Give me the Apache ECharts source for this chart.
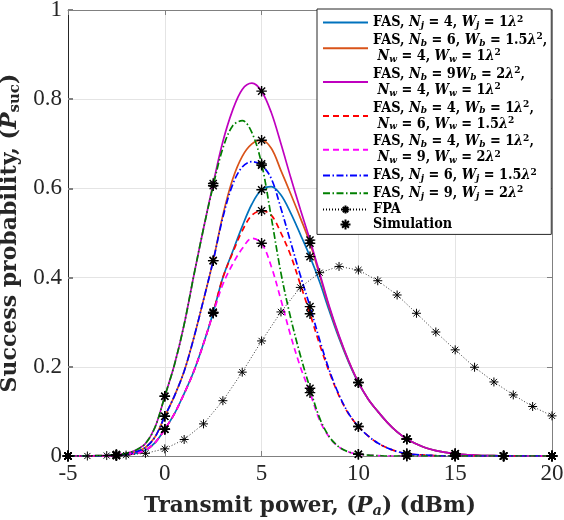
<!DOCTYPE html>
<html><head><meta charset="utf-8">
<script src="https://cdn.jsdelivr.net/npm/echarts/dist/echarts.min.js"></script>
<style>html,body{margin:0;padding:0;background:#fff}#c{width:564px;height:520px}</style>
</head><body><div id="c"></div>
<script>
// Transmit power grid (dBm) for FAS curves
const xFine = [-5,-4.5,-4,-3.5,-3,-2.5,-2,-1.5,-1,-0.5,0,0.5,1,1.5,2,2.5,3,3.5,4,4.5,5,5.5,6,6.5,7,7.5,8,8.5,9,9.5,10,10.5,11,11.5,12,12.5,13,13.5,14,14.5,15,15.5,16,16.5,17,17.5,18,18.5,19,19.5,20];
// FAS, Nj=4, Wj=1λ²
const fasNj4 = [0,0,0,0,0,0.001,0.003,0.006,0.013,0.03,0.06,0.095,0.14,0.19,0.252,0.322,0.40,0.458,0.515,0.565,0.597,0.604,0.585,0.545,0.497,0.447,0.39,0.325,0.264,0.21,0.164,0.128,0.10,0.075,0.054,0.038,0.027,0.018,0.012,0.008,0.005,0.003,0.002,0.001,0.001,0,0,0,0,0,0];
// FAS, Nb=6, Wb=1.5λ², Nw=4, Ww=1λ²
const fasNb6Nw4 = [0,0,0,0,0.001,0.002,0.004,0.009,0.019,0.043,0.089,0.135,0.19,0.265,0.35,0.438,0.54,0.62,0.672,0.70,0.708,0.69,0.64,0.588,0.534,0.477,0.405,0.332,0.268,0.212,0.165,0.128,0.10,0.075,0.054,0.038,0.027,0.018,0.012,0.008,0.005,0.003,0.002,0.001,0.001,0,0,0,0,0,0];
// FAS, Nb=9, Wb=2λ², Nw=4, Ww=1λ²
const fasNb9Nw4 = [0,0,0,0.001,0.001,0.003,0.006,0.013,0.028,0.065,0.134,0.205,0.295,0.405,0.51,0.611,0.705,0.775,0.822,0.836,0.818,0.77,0.70,0.625,0.553,0.484,0.41,0.335,0.27,0.213,0.165,0.128,0.10,0.075,0.054,0.038,0.027,0.018,0.012,0.008,0.005,0.003,0.002,0.001,0.001,0,0,0,0,0,0];
// FAS, Nb=4, Wb=1λ², Nw=6, Ww=1.5λ²
const fasNb4Nw6 = [0,0,0,0,0,0.001,0.003,0.006,0.013,0.03,0.06,0.095,0.14,0.19,0.252,0.322,0.40,0.455,0.505,0.54,0.55,0.54,0.50,0.45,0.385,0.319,0.25,0.188,0.135,0.094,0.066,0.045,0.029,0.018,0.01,0.005,0.003,0.002,0.001,0,0,0,0,0,0,0,0,0,0,0,0];
// FAS, Nb=4, Wb=1λ², Nw=9, Ww=2λ²
const fasNb4Nw9 = [0,0,0,0,0,0.001,0.003,0.006,0.013,0.03,0.06,0.095,0.14,0.19,0.252,0.32,0.385,0.43,0.465,0.488,0.477,0.425,0.35,0.27,0.2,0.142,0.08,0.042,0.02,0.009,0.004,0.002,0.001,0,0,0,0,0,0,0,0,0,0,0,0,0,0,0,0,0,0];
// FAS, Nj=6, Wj=1.5λ²
const fasNj6 = [0,0,0,0,0.001,0.002,0.004,0.009,0.019,0.043,0.089,0.135,0.19,0.265,0.35,0.438,0.535,0.608,0.648,0.66,0.652,0.622,0.555,0.48,0.405,0.335,0.26,0.192,0.137,0.095,0.066,0.045,0.029,0.018,0.01,0.005,0.003,0.002,0.001,0,0,0,0,0,0,0,0,0,0,0,0];
// FAS, Nj=9, Wj=2λ²
const fasNj9 = [0,0,0,0.001,0.001,0.003,0.006,0.013,0.028,0.065,0.134,0.205,0.295,0.405,0.51,0.606,0.69,0.74,0.752,0.725,0.655,0.535,0.41,0.31,0.226,0.152,0.085,0.043,0.02,0.009,0.004,0.002,0.001,0,0,0,0,0,0,0,0,0,0,0,0,0,0,0,0,0,0];
// FPA
const xFpa = [-5,-4,-3,-2,-1,0,1,2,3,4,5,6,7,8,9,10,11,12,13,14,15,16,17,18,19,20];
const fpa = [0,0,0.001,0.002,0.006,0.016,0.037,0.072,0.124,0.188,0.258,0.323,0.378,0.411,0.425,0.417,0.393,0.361,0.320,0.278,0.238,0.199,0.166,0.137,0.111,0.090];
// simulation markers every 2.5 dBm
const xSim = [-5,-2.5,0,2.5,5,7.5,10,12.5,15,17.5,20];
const xTicks = [-5,0,5,10,15,20];
const yTicks = [0,0.2,0.4,0.6,0.8,1];

const names = [
  'FAS, Nj = 4, Wj = 1λ2',
  'FAS, Nb = 6, Wb = 1.5λ2, Nw = 4, Ww = 1λ2',
  'FAS, Nb = 9Wb = 2λ2, Nw = 4, Ww = 1λ2',
  'FAS, Nb = 4, Wb = 1λ2, Nw = 6, Ww = 1.5λ2',
  'FAS, Nb = 4, Wb = 1λ2, Nw = 9, Ww = 2λ2',
  'FAS, Nj = 6, Wj = 1.5λ2',
  'FAS, Nj = 9, Wj = 2λ2',
  'FPA',
  'Simulation'
];
const labelRich = [
  '{b|FAS, }{i|N}{s|j}{b| = 4, }{i|W}{s|j}{b| = 1}{i|λ}{p|2}',
  '{b|FAS, }{i|N}{s|b}{b| = 6, }{i|W}{s|b}{b| = 1.5}{i|λ}{p|2}{b|,}\n{b| }{i|N}{s|w}{b| = 4, }{i|W}{s|w}{b| = 1}{i|λ}{p|2}',
  '{b|FAS, }{i|N}{s|b}{b| = 9}{i|W}{s|b}{b| = 2}{i|λ}{p|2}{b|,}\n{b| }{i|N}{s|w}{b| = 4, }{i|W}{s|w}{b| = 1}{i|λ}{p|2}',
  '{b|FAS, }{i|N}{s|b}{b| = 4, }{i|W}{s|b}{b| = 1}{i|λ}{p|2}{b|,}\n{b| }{i|N}{s|w}{b| = 6, }{i|W}{s|w}{b| = 1.5}{i|λ}{p|2}',
  '{b|FAS, }{i|N}{s|b}{b| = 4, }{i|W}{s|b}{b| = 1}{i|λ}{p|2}{b|,}\n{b| }{i|N}{s|w}{b| = 9, }{i|W}{s|w}{b| = 2}{i|λ}{p|2}',
  '{b|FAS, }{i|N}{s|j}{b| = 6, }{i|W}{s|j}{b| = 1.5}{i|λ}{p|2}',
  '{b|FAS, }{i|N}{s|j}{b| = 9, }{i|W}{s|j}{b| = 2}{i|λ}{p|2}',
  '{b|FPA}',
  '{b|Simulation}'
];

const SERIF = "'Liberation Serif', 'DejaVu Serif', serif";
const CSERIF = "'DejaVu Serif Condensed', 'DejaVu Serif', serif";
const DSERIF = "'DejaVu Serif', serif";
const star = 'path://M5 0L5 10M0 5L10 5M1.6 1.6L8.4 8.4M8.4 1.6L1.6 8.4';

function fas(idx, data, color, type, width, z) {
  return {
    name: names[idx], type: 'line', data: xFine.map((x, i) => [x, data[i]]),
    smooth: 0.35, symbol: 'none', showSymbol: false, z: z,
    lineStyle: { color: color, width: width, type: type }, itemStyle: { color: color }
  };
}
const curves = [fasNj4, fasNb6Nw4, fasNb9Nw4, fasNb4Nw6, fasNb4Nw9, fasNj6, fasNj9];
const simData = [];
curves.forEach(arr => {
  xSim.forEach(xs => { const i = xFine.indexOf(xs); simData.push([xs, arr[i]]); });
});

const rich = {
  b: { fontFamily: CSERIF, fontWeight: 'bold', fontSize: 14.3, color: '#000', lineHeight: 16 },
  i: { fontFamily: CSERIF, fontWeight: 'bold', fontStyle: 'italic', fontSize: 14.3, color: '#000', lineHeight: 16 },
  s: { fontFamily: CSERIF, fontWeight: 'bold', fontStyle: 'italic', fontSize: 10, color: '#000', lineHeight: 10, padding: [6, 0, 0, 0] },
  p: { fontFamily: CSERIF, fontWeight: 'bold', fontSize: 10, color: '#000', lineHeight: 9, padding: [0, 0, 7, 0] }
};
function axisRich(fs) {
  return {
    b: { fontFamily: DSERIF, fontWeight: 'bold', fontSize: fs, color: '#262626' },
    i: { fontFamily: DSERIF, fontWeight: 'bold', fontStyle: 'italic', fontSize: fs, color: '#262626' },
    s: { fontFamily: DSERIF, fontWeight: 'bold', fontStyle: 'italic', fontSize: fs * 0.68, color: '#262626', padding: [10, 0, 0, 0] },
    u: { fontFamily: DSERIF, fontWeight: 'bold', fontSize: fs * 0.68, color: '#262626', padding: [10, 0, 0, 0] }
  };
}

const legendData = names.map((n, i) => i < 7 ? { name: n, itemStyle: { opacity: 0 } } : n);

const chart = echarts.init(document.getElementById('c'), null, { renderer: 'canvas' });
chart.setOption({
  animation: false,
  backgroundColor: '#fff',
  grid: { left: 68, right: 12, top: 10, bottom: 64, containLabel: false, outerBoundsMode: 'none' },
  xAxis: [{
    type: 'value', min: xTicks[0], max: xTicks[xTicks.length - 1], interval: 5,
    axisLine: { onZero: false, lineStyle: { color: '#808080', width: 1 } },
    axisTick: { inside: true, length: 5, lineStyle: { color: '#808080' } },
    axisLabel: { margin: 6, fontFamily: SERIF, fontSize: 23, color: '#262626' },
    splitLine: { show: true, lineStyle: { color: '#e4e4e4', width: 1 } },
    name: '{b|Transmit power, (}{i|P}{s|a}{b|) (dBm)}', nameLocation: 'middle', nameGap: 38,
    nameTextStyle: { rich: axisRich(21.5) }
  }, {
    type: 'value', position: 'top', min: xTicks[0], max: xTicks[xTicks.length - 1], interval: 5,
    axisLine: { onZero: false, lineStyle: { color: '#808080' } },
    axisTick: { inside: true, length: 5, lineStyle: { color: '#808080' } },
    axisLabel: { show: false }, splitLine: { show: false }
  }],
  yAxis: [{
    type: 'value', min: yTicks[0], max: yTicks[yTicks.length - 1], interval: 0.2,
    axisLine: { show: true, onZero: false, lineStyle: { color: '#262626', width: 1 } },
    axisTick: { show: true, inside: true, length: 5, lineStyle: { color: '#808080', width: 2 } },
    axisLabel: { margin: 6, fontFamily: SERIF, fontSize: 23, color: '#262626' },
    splitLine: { show: true, lineStyle: { color: '#e4e4e4', width: 1 } },
    name: '{b|Success probability, (}{i|P}{u|suc}{b|)}', nameLocation: 'middle', nameGap: 44,
    nameRotate: 90, nameTextStyle: { rich: axisRich(22) }
  }, {
    type: 'value', position: 'right', min: yTicks[0], max: yTicks[yTicks.length - 1], interval: 0.2,
    axisLine: { show: true, onZero: false, lineStyle: { color: '#808080' } },
    axisTick: { show: true, inside: true, length: 5, lineStyle: { color: '#808080' } },
    axisLabel: { show: false }, splitLine: { show: false }
  }],
  legend: {
    orient: 'vertical', left: 317, top: 9, padding: [5, 4, 3, 5], itemGap: 0.8,
    itemWidth: 45, itemHeight: 10, backgroundColor: '#fff', borderColor: '#262626', borderWidth: 1,
    data: legendData, formatter: n => labelRich[names.indexOf(n)], textStyle: { rich: rich }
  },
  series: [
    fas(0, fasNj4, '#0072BD', 'solid', 1.7, 3),
    fas(1, fasNb6Nw4, '#D95319', 'solid', 1.7, 3),
    fas(2, fasNb9Nw4, '#BF00BF', 'solid', 1.7, 4),
    fas(3, fasNb4Nw6, '#FF0000', [6, 4], 1.7, 5),
    fas(4, fasNb4Nw9, '#FF00FF', [6, 4], 1.7, 5),
    fas(5, fasNj6, '#0000FF', [7, 2.5, 1.5, 2.5], 1.7, 6),
    fas(6, fasNj9, '#008000', [7, 2.5, 1.5, 2.5], 1.7, 6),
    {
      name: names[7], type: 'line', data: xFpa.map((x, i) => [x, fpa[i]]),
      symbol: star, symbolSize: 9, showSymbol: true, z: 7,
      lineStyle: { color: '#000', width: 0.8, type: [1, 2] },
      itemStyle: { color: '#000', borderColor: '#000', borderWidth: 1 }
    },
    {
      name: names[8], type: 'scatter', data: simData, symbol: star, symbolSize: 10.5, z: 8,
      itemStyle: { color: '#000', borderColor: '#000', borderWidth: 1.4, opacity: 1 }
    }
  ]
});
</script></body></html>
